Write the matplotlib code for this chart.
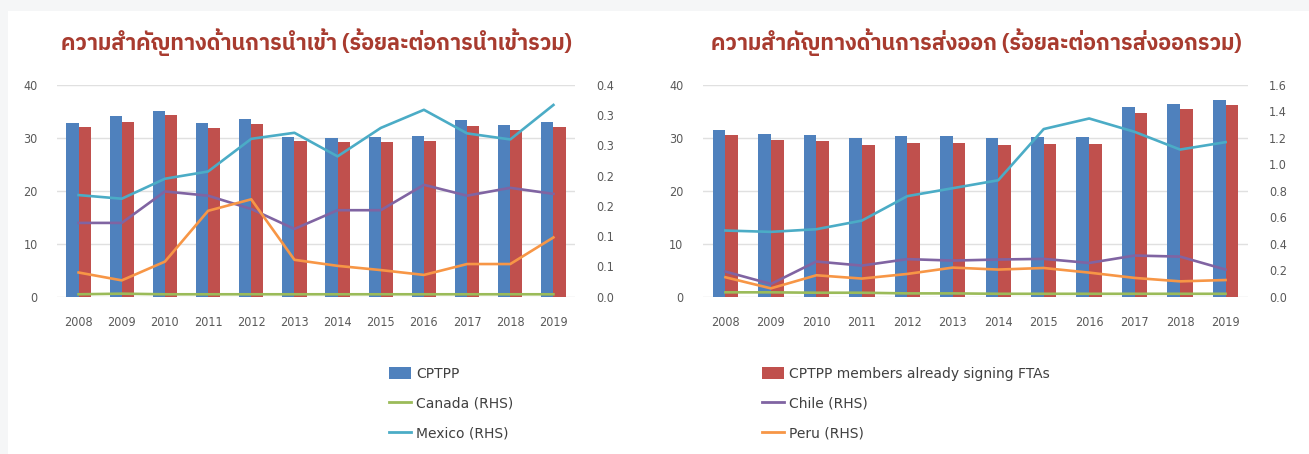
import numpy as np
import matplotlib
matplotlib.use("Agg")
import matplotlib.pyplot as plt
from matplotlib import font_manager
from matplotlib.ft2font import FT2Font
from matplotlib.patches import Rectangle
from matplotlib.lines import Line2D

# ---------------- data ----------------
years = ["2008", "2009", "2010", "2011", "2012", "2013",
         "2014", "2015", "2016", "2017", "2018", "2019"]

# Imports chart (left)
imp_cptpp = [32.9, 34.1, 35.1, 32.8, 33.5, 30.1, 30.0, 30.2, 30.4, 33.3, 32.5, 33.1]
imp_members = [32.1, 33.1, 34.3, 31.9, 32.6, 29.4, 29.3, 29.3, 29.5, 32.3, 31.5, 32.1]
imp_canada = [0.004, 0.005, 0.004, 0.004, 0.004, 0.004, 0.004, 0.004, 0.004, 0.004, 0.004, 0.004]
imp_chile = [0.122, 0.122, 0.174, 0.167, 0.145, 0.112, 0.143, 0.143, 0.185, 0.167, 0.180, 0.170]
imp_mexico = [0.168, 0.162, 0.195, 0.207, 0.261, 0.271, 0.232, 0.279, 0.309, 0.270, 0.260, 0.317]
imp_peru = [0.040, 0.027, 0.058, 0.142, 0.161, 0.061, 0.051, 0.044, 0.036, 0.054, 0.054, 0.098]
imp_rhs_ticks = [0.0, 0.05, 0.10, 0.15, 0.20, 0.25, 0.30, 0.35]
imp_rhs_labels = ["0.0", "0.1", "0.1", "0.2", "0.2", "0.3", "0.3", "0.4"]

# Exports chart (right)
exp_cptpp = [31.5, 30.7, 30.5, 29.9, 30.3, 30.3, 29.9, 30.1, 30.1, 35.8, 36.4, 37.2]
exp_members = [30.5, 29.6, 29.4, 28.7, 29.1, 29.1, 28.7, 28.9, 28.9, 34.8, 35.4, 36.2]
exp_canada = [0.033, 0.033, 0.030, 0.030, 0.025, 0.025, 0.022, 0.022, 0.022, 0.022, 0.022, 0.022]
exp_chile = [0.19, 0.096, 0.266, 0.235, 0.284, 0.273, 0.281, 0.286, 0.255, 0.311, 0.303, 0.205]
exp_mexico = [0.50, 0.49, 0.51, 0.575, 0.76, 0.82, 0.88, 1.267, 1.347, 1.246, 1.112, 1.168]
exp_peru = [0.147, 0.063, 0.162, 0.137, 0.172, 0.22, 0.205, 0.217, 0.182, 0.142, 0.116, 0.126]
exp_rhs_ticks = [0.0, 0.2, 0.4, 0.6, 0.8, 1.0, 1.2, 1.4, 1.6]
exp_rhs_labels = ["0.0", "0.2", "0.4", "0.6", "0.8", "1.0", "1.2", "1.4", "1.6"]

lhs_ticks = [0, 10, 20, 30, 40]

title_imp = "ความสำคัญทางด้านการนำเข้า (ร้อยละต่อการนำเข้ารวม)"
title_exp = "ความสำคัญทางด้านการส่งออก (ร้อยละต่อการส่งออกรวม)"

labels = ["CPTPP", "CPTPP members already signing FTAs", "Canada (RHS)",
          "Chile (RHS)", "Mexico (RHS)", "Peru (RHS)"]

# ---------------- styles ----------------
C_BLUE = "#4f81bd"
C_RED = "#c0504d"
C_GREEN = "#9bbb59"
C_PURPLE = "#8064a2"
C_CYAN = "#4bacc6"
C_ORANGE = "#f79646"
TICK_COL = "#595959"
GRID_COL = "#e0e0e0"
TITLE_COL = "#a83b2f"


def find_thai_family():
    preferred = []
    for f in font_manager.fontManager.ttflist:
        try:
            ft = FT2Font(f.fname)
            if ft.get_char_index(ord("ก")) and ft.get_char_index(ord("ค")):
                preferred.append(f.name)
        except Exception:
            pass
    for p in preferred:
        if "Thai" in p:
            return p
    return preferred[0] if preferred else "DejaVu Sans"


thai_family = find_thai_family()

tick_family = ["DejaVu Sans Condensed", "DejaVu Sans"]
TICK_SIZE = 9

fig = plt.figure(figsize=(13.09, 4.54), dpi=100)
fig.patch.set_facecolor("white")
W, H = 1309.0, 454.0

# page background (light grey border at top and left)
fig.patches.append(Rectangle((0, 1 - 11 / H), 1, 11 / H, transform=fig.transFigure,
                             facecolor="#f5f6f7", edgecolor="none", zorder=-10))
fig.patches.append(Rectangle((0, 0), 8 / W, 1, transform=fig.transFigure,
                             facecolor="#f5f6f7", edgecolor="none", zorder=-10))


def style_labels(labs):
    for lab in labs:
        lab.set_family(tick_family)
        lab.set_stretch("condensed")
        lab.set_fontsize(TICK_SIZE)


def make_chart(x0, x1, cptpp, members, canada, chile, mexico, peru,
               rticks, rlabels, title, title_x):
    left = x0 / W
    width = (x1 - x0) / W
    bottom = 1 - 296.7 / H
    height = (296.7 - 85) / H
    ax = fig.add_axes([left, bottom, width, height])
    ax2 = ax.twinx()
    x = np.arange(len(years))
    w = 0.28
    ax.bar(x - w / 2, cptpp, w, color=C_BLUE, zorder=2)
    ax.bar(x + w / 2, members, w, color=C_RED, zorder=2)
    ax.set_ylim(0, 40)
    ax.set_yticks(lhs_ticks)
    ax.set_yticklabels([str(t) for t in lhs_ticks])
    ax.set_xlim(-0.5, len(years) - 0.5)
    ax.set_xticks(x)
    ax.set_xticklabels(years)
    ax.grid(axis="y", color=GRID_COL, linewidth=1.0, zorder=0)
    ax.set_axisbelow(True)
    for s in ax.spines.values():
        s.set_visible(False)
    for s in ax2.spines.values():
        s.set_visible(False)
    ax.tick_params(axis="both", length=0, colors=TICK_COL)
    ax.tick_params(axis="y", pad=14)
    ax.tick_params(axis="x", pad=14)
    style_labels(ax.get_xticklabels() + ax.get_yticklabels())

    lw = 1.9
    ax2.plot(x, canada, color=C_GREEN, lw=lw, zorder=3)
    ax2.plot(x, chile, color=C_PURPLE, lw=lw, zorder=3)
    ax2.plot(x, mexico, color=C_CYAN, lw=lw, zorder=3)
    ax2.plot(x, peru, color=C_ORANGE, lw=lw, zorder=3)
    ax2.set_ylim(rticks[0], rticks[-1])
    ax2.set_yticks(rticks)
    ax2.set_yticklabels(rlabels)
    ax2.tick_params(axis="y", length=0, colors=TICK_COL, pad=15)
    style_labels(ax2.get_yticklabels())

    fig.text(title_x / W, 1 - 42 / H, title, ha="center", va="center",
             color=TITLE_COL, fontsize=15.5, fontweight="bold",
             family=[thai_family, "DejaVu Sans"])
    return ax, ax2


make_chart(57, 575, imp_cptpp, imp_members, imp_canada, imp_chile, imp_mexico,
           imp_peru, imp_rhs_ticks, imp_rhs_labels, title_imp, 316)
make_chart(702.7, 1248.3, exp_cptpp, exp_members, exp_canada, exp_chile, exp_mexico,
           exp_peru, exp_rhs_ticks, exp_rhs_labels, title_exp, 976)

# legend (two columns)
h_cptpp = Rectangle((0, 0), 1, 1, facecolor=C_BLUE, edgecolor="none")
h_mem = Rectangle((0, 0), 1, 1, facecolor=C_RED, edgecolor="none")
h_can = Line2D([], [], color=C_GREEN, lw=2.0)
h_chi = Line2D([], [], color=C_PURPLE, lw=2.0)
h_mex = Line2D([], [], color=C_CYAN, lw=2.0)
h_per = Line2D([], [], color=C_ORANGE, lw=2.0)

leg_kw = dict(frameon=False, fontsize=10, handlelength=1.6, handleheight=1.0,
              handletextpad=0.35, labelspacing=1.15, borderpad=0, borderaxespad=0,
              labelcolor="#404040", loc="upper left")
leg1 = fig.legend([h_cptpp, h_can, h_mex], [labels[0], labels[2], labels[4]],
                  bbox_to_anchor=(389 / W, 1 - 367 / H), **leg_kw)
leg2 = fig.legend([h_mem, h_chi, h_per], [labels[1], labels[3], labels[5]],
                  bbox_to_anchor=(762 / W, 1 - 367 / H), **leg_kw)

fig.savefig("out.png", dpi=100, facecolor=fig.get_facecolor())
